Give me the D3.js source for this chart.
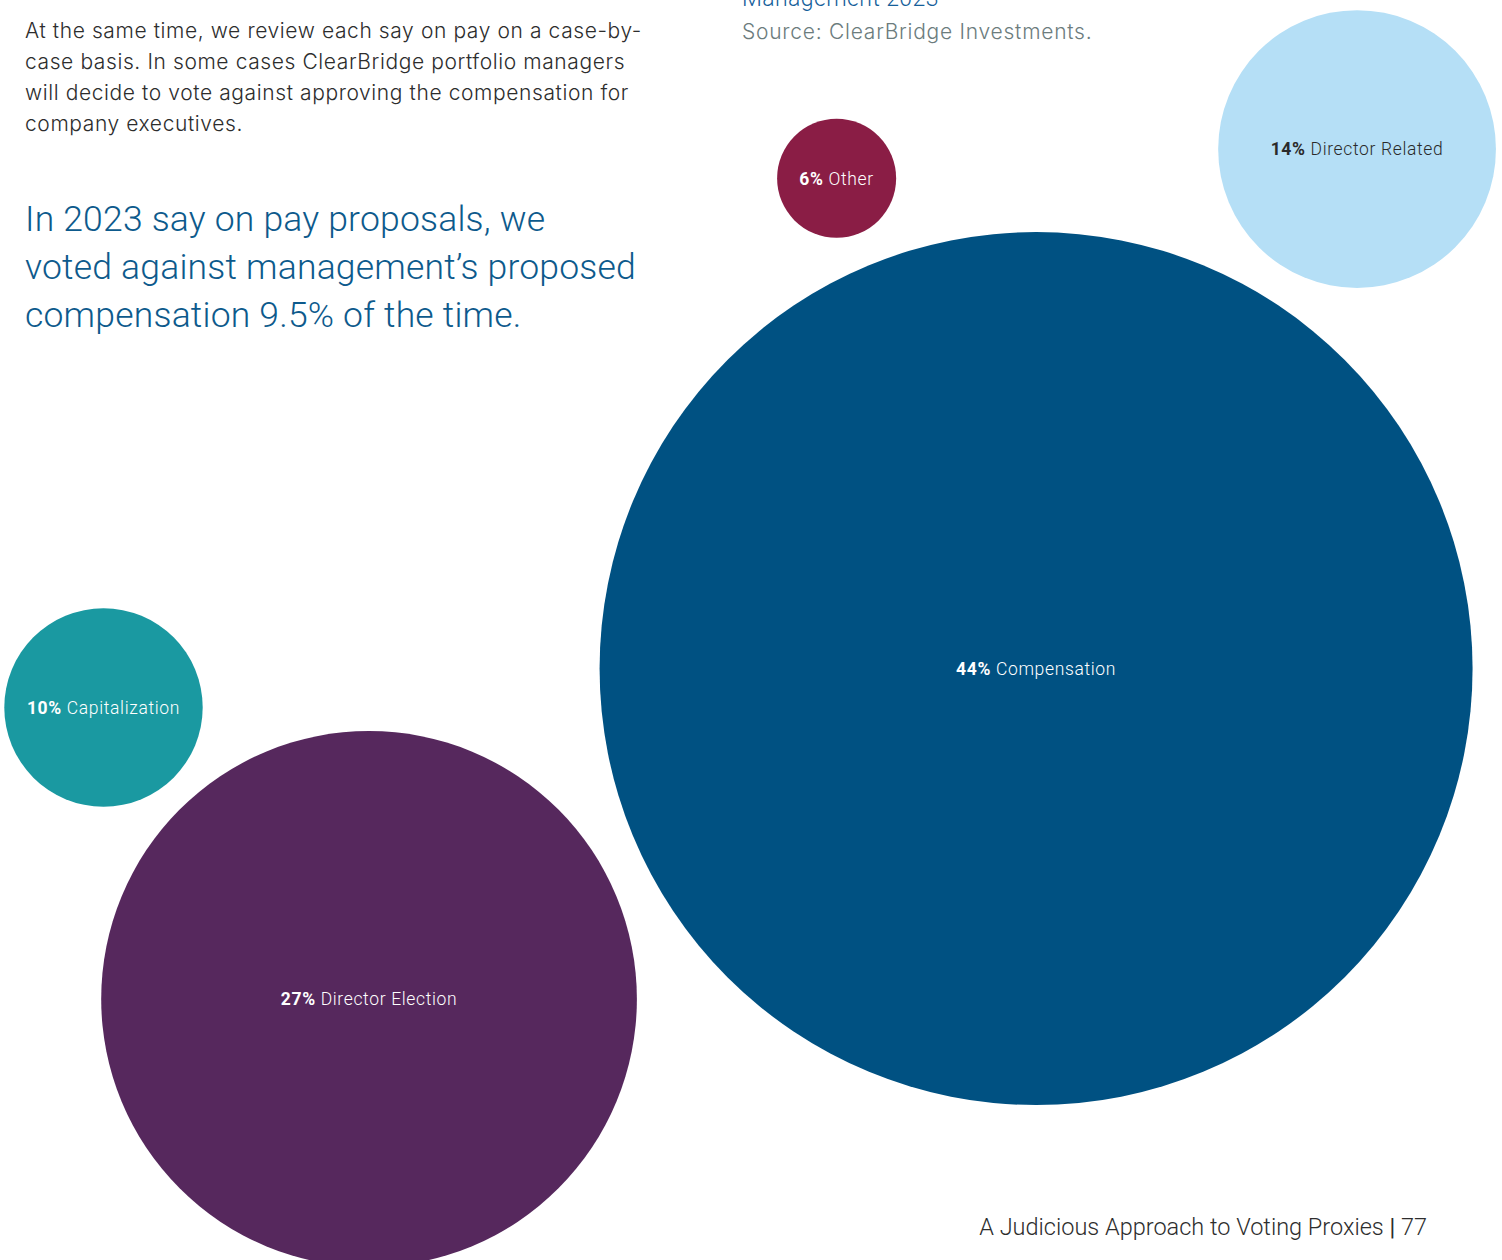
<!DOCTYPE html>
<html>
<head>
<meta charset="utf-8">
<script src="https://cdn.jsdelivr.net/npm/d3@7/dist/d3.min.js"></script>
<style>
  html, body { margin: 0; padding: 0; background: #ffffff; }
  svg { display: block; }
  text { font-family: Roboto, "Liberation Sans", sans-serif; }
  .wide { font-family: Inter, "Open Sans", Roboto, sans-serif; }
</style>
</head>
<body>
<script>
// Proposal categories voted against management, 2023 (share of votes, %)
const categories = ["Other", "Director Related", "Compensation", "Capitalization", "Director Election"];
const shares = [6, 14, 44, 10, 27];

// Bubble placement on a unit page grid (0..1 across, 0..1 down)
const gridX = [0.557, 0.9035, 0.6898, 0.0689, 0.2457];
const gridY = [0.1415, 0.1183, 0.5306, 0.5615, 0.7928];

const fills = ["#8a1d45", "#b5dff6", "#005182", "#1a99a1", "#56285d"];
const labelInk = ["#ffffff", "#2a2a2a", "#ffffff", "#ffffff", "#ffffff"];

const bodyLines = [
  "At the same time, we review each say on pay on a case-by-",
  "case basis. In some cases ClearBridge portfolio managers",
  "will decide to vote against approving the compensation for",
  "company executives."
];
const calloutLines = [
  "In 2023 say on pay proposals, we",
  "voted against management\u2019s proposed",
  "compensation 9.5% of the time."
];
const chartTitle = "Management 2023";
const sourceNote = "Source: ClearBridge Investments.";
const footerText = "A Judicious Approach to Voting Proxies";
const pageNumber = "77";

const W = 1502, H = 1260;
const svg = d3.select("body").append("svg").attr("width", W).attr("height", H);

const x = d3.scaleLinear().domain([0, 1]).range([0, W]);
const y = d3.scaleLinear().domain([0, 1]).range([0, H]);
const r = d3.scaleLinear().domain([0, 44]).range([0, 436.5]);

const bubbles = categories.map((c, i) => ({
  name: c, value: shares[i], gx: gridX[i], gy: gridY[i], fill: fills[i], ink: labelInk[i]
}));

// Bubbles
const g = svg.append("g");
g.selectAll("circle").data(bubbles).join("circle")
  .attr("cx", d => x(d.gx))
  .attr("cy", d => y(d.gy))
  .attr("r", d => r(d.value))
  .attr("fill", d => d.fill);

// Bubble labels: bold share followed by category name
const lbl = g.selectAll("text.lbl").data(bubbles).join("text")
  .attr("class", "lbl")
  .attr("x", d => x(d.gx))
  .attr("y", d => y(d.gy))
  .attr("dy", "0.36em")
  .attr("text-anchor", "middle")
  .attr("font-size", 17.5)
  .attr("letter-spacing", 0.65)
  .attr("fill", d => d.ink);
lbl.append("tspan").attr("font-weight", 700).text(d => d.value + "%");
lbl.append("tspan").attr("font-weight", 300).text(d => " " + d.name);

// Body copy
svg.append("g").selectAll("text").data(bodyLines).join("text")
  .attr("class", "wide")
  .attr("x", 25)
  .attr("y", (d, i) => 38 + i * 31)
  .attr("font-size", 21)
  .attr("font-weight", 300)
  .attr("letter-spacing", 0.6)
  .attr("fill", "#2d2d2d")
  .text(d => d);

// Callout
svg.append("g").selectAll("text").data(calloutLines).join("text")
  .attr("x", 25)
  .attr("y", (d, i) => 231 + i * 48)
  .attr("font-size", 35.5)
  .attr("font-weight", 300)
  .attr("letter-spacing", 0.2)
  .attr("fill", "#0d5a8c")
  .text(d => d);

// Chart title (runs off the top) and source
svg.append("text")
  .attr("x", 742).attr("y", 6)
  .attr("font-size", 23).attr("font-weight", 300)
  .attr("letter-spacing", 0.4)
  .attr("fill", "#15609a")
  .text(chartTitle);
svg.append("text")
  .attr("class", "wide")
  .attr("x", 742).attr("y", 39)
  .attr("font-size", 21).attr("font-weight", 300)
  .attr("letter-spacing", 0.75)
  .attr("fill", "#6c7c7d")
  .text(sourceNote);

// Footer with page number
const foot = svg.append("text")
  .attr("x", 1427).attr("y", 1235)
  .attr("text-anchor", "end")
  .attr("font-size", 23.5).attr("font-weight", 300)
  .attr("fill", "#2d2d2d");
foot.append("tspan").text(footerText + " ");
foot.append("tspan").attr("font-weight", 400).text("|");
foot.append("tspan").text(" " + pageNumber);
</script>
</body>
</html>
